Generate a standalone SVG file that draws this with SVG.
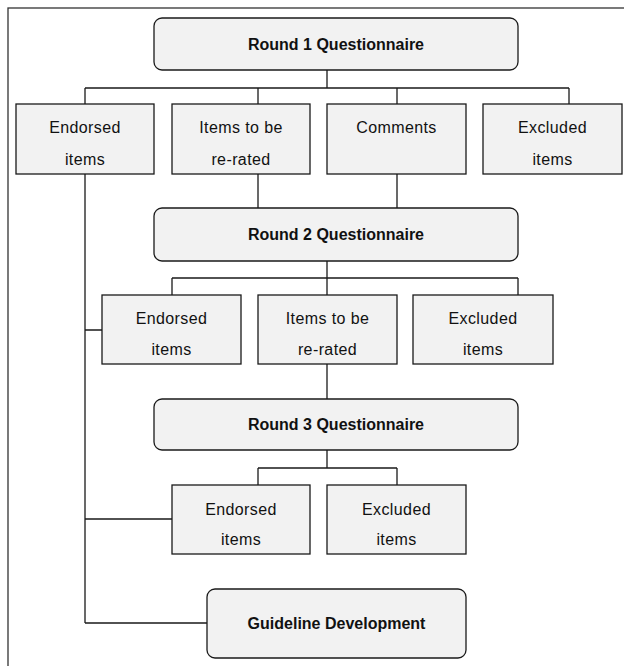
<svg xmlns="http://www.w3.org/2000/svg" width="624" height="666" viewBox="0 0 624 666">
<style>
.frame{fill:none;stroke:#333;stroke-width:1.3}
.box{fill:#f2f2f2;stroke:#1a1a1a;stroke-width:1.3}
.conn{fill:none;stroke:#1a1a1a;stroke-width:1.3}
.t{font-family:"Liberation Sans",Arial,sans-serif;font-size:16px;fill:#111;text-anchor:middle;letter-spacing:0.4px}
.b{font-family:"Liberation Sans",Arial,sans-serif;font-size:16px;font-weight:bold;fill:#111;text-anchor:middle}
</style>
<rect width="624" height="666" fill="#fff"/>
<rect class="frame" x="8" y="8" width="700" height="700"/>
<g id="connectors">
<path class="conn" d="M327 70V88M85 88H569M85 88V104M258 88V104M397 88V104M569 88V104"/>
<path class="conn" d="M258 174V208M397 174V208"/>
<path class="conn" d="M327 261V278M172 278H518M172 278V295M327 278V295M518 278V295"/>
<path class="conn" d="M327 364V399"/>
<path class="conn" d="M327 450V468M258 468H397M258 468V485M397 468V485"/>
<path class="conn" d="M85 174V623M85 330H102M85 519H172M85 623H207"/>
</g>
<g id="round1"><rect class="box" x="154" y="18" width="364" height="52" rx="8"/><text class="b" x="336" y="49.5">Round 1 Questionnaire</text></g>
<g id="r1-endorsed"><rect class="box" x="16" y="104" width="138" height="70"/><text class="t" x="85" y="133">Endorsed</text><text class="t" x="85" y="165">items</text></g>
<g id="r1-rerate"><rect class="box" x="172" y="104" width="138" height="70"/><text class="t" x="241" y="133">Items to be</text><text class="t" x="241" y="165">re-rated</text></g>
<g id="r1-comments"><rect class="box" x="327" y="104" width="139" height="70"/><text class="t" x="396.5" y="133">Comments</text></g>
<g id="r1-excluded"><rect class="box" x="483" y="104" width="139" height="70"/><text class="t" x="552.5" y="133">Excluded</text><text class="t" x="552.5" y="165">items</text></g>
<g id="round2"><rect class="box" x="154" y="208" width="364" height="53" rx="8"/><text class="b" x="336" y="240">Round 2 Questionnaire</text></g>
<g id="r2-endorsed"><rect class="box" x="102" y="295" width="139" height="69"/><text class="t" x="171.5" y="324">Endorsed</text><text class="t" x="171.5" y="355">items</text></g>
<g id="r2-rerate"><rect class="box" x="258" y="295" width="139" height="69"/><text class="t" x="327.5" y="324">Items to be</text><text class="t" x="327.5" y="355">re-rated</text></g>
<g id="r2-excluded"><rect class="box" x="413" y="295" width="140" height="69"/><text class="t" x="483" y="324">Excluded</text><text class="t" x="483" y="355">items</text></g>
<g id="round3"><rect class="box" x="154" y="399" width="364" height="51" rx="8"/><text class="b" x="336" y="430">Round 3 Questionnaire</text></g>
<g id="r3-endorsed"><rect class="box" x="172" y="485" width="138" height="69"/><text class="t" x="241" y="515">Endorsed</text><text class="t" x="241" y="545">items</text></g>
<g id="r3-excluded"><rect class="box" x="327" y="485" width="139" height="69"/><text class="t" x="396.5" y="515">Excluded</text><text class="t" x="396.5" y="545">items</text></g>
<g id="guideline"><rect class="box" x="207" y="589" width="259" height="69" rx="8"/><text class="b" x="336.5" y="629">Guideline Development</text></g>
</svg>
